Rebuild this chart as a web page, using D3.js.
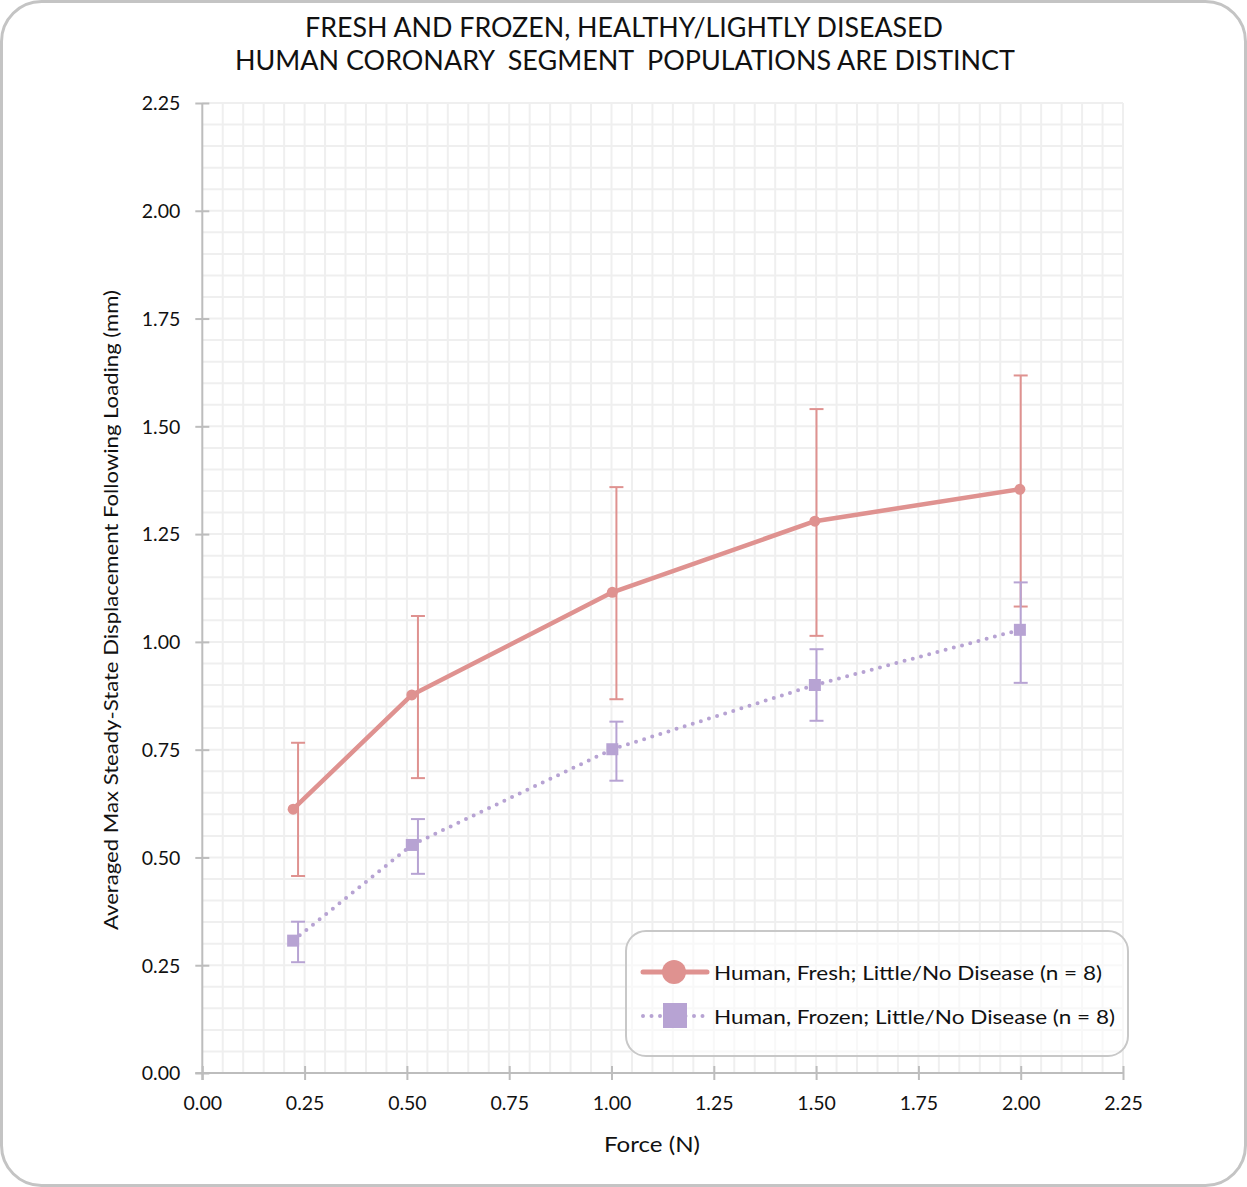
<!DOCTYPE html>
<html>
<head>
<meta charset="utf-8">
<script src="https://cdn.jsdelivr.net/npm/d3@7"></script>
<style>
  html, body { margin: 0; padding: 0; background: #fff; }
  svg { display: block; }
  text { font-family: Lato, "Open Sans", sans-serif; fill: #111; }
</style>
</head>
<body>
<svg id="chart" width="1247" height="1187"></svg>
<script>
// ---- data ----
const titleLines = ["FRESH AND FROZEN, HEALTHY/LIGHTLY DISEASED", "HUMAN CORONARY  SEGMENT  POPULATIONS ARE DISTINCT"];
const xTicks = [0, 0.25, 0.5, 0.75, 1.0, 1.25, 1.5, 1.75, 2.0, 2.25];
const yTicks = [0, 0.25, 0.5, 0.75, 1.0, 1.25, 1.5, 1.75, 2.0, 2.25];
const forceMarker = [0.222, 0.512, 1.002, 1.497, 1.998];
const forceErr = [0.234, 0.527, 1.012, 1.501, 2.0];
const freshMean = [0.612, 0.877, 1.115, 1.280, 1.354];
const freshHi = [0.766, 1.060, 1.359, 1.540, 1.618];
const freshLo = [0.457, 0.684, 0.867, 1.014, 1.082];
const frozenMean = [0.307, 0.529, 0.751, 0.900, 1.028];
const frozenHi = [0.351, 0.589, 0.815, 0.983, 1.138];
const frozenLo = [0.257, 0.462, 0.678, 0.817, 0.905];
const seriesNames = ["Human, Fresh; Little/No Disease (n = 8)", "Human, Frozen; Little/No Disease (n = 8)"];
const xTitle = "Force (N)";
const yTitle = "Averaged Max Steady-State Displacement Following Loading (mm)";

const freshColor = "#df9290";
const frozenColor = "#b7a3d3";

const svg = d3.select("#chart");
const W = 1247, H = 1187;

// outer rounded border
svg.append("rect").attr("x", 1.5).attr("y", 1.5).attr("width", W - 3).attr("height", H - 3)
  .attr("rx", 40).attr("ry", 40).attr("fill", "#fff").attr("stroke", "#c4c4c4").attr("stroke-width", 3);

const x = d3.scaleLinear().domain([0, 2.25]).range([202.3, 1123]);
const y = d3.scaleLinear().domain([0, 2.25]).range([1073, 103]);

// grid (every 0.05)
const gridVals = d3.range(0, 46).map(i => i * 0.05);
const grid = svg.append("g");
grid.selectAll("line.v").data(gridVals.slice(1)).join("line")
  .attr("x1", d => x(d)).attr("x2", d => x(d)).attr("y1", y(0)).attr("y2", y(2.25))
  .attr("stroke", "#efefef").attr("stroke-width", 2);
grid.selectAll("line.h").data(gridVals.slice(1)).join("line")
  .attr("y1", d => y(d)).attr("y2", d => y(d)).attr("x1", x(0)).attr("x2", x(2.25))
  .attr("stroke", "#efefef").attr("stroke-width", 2);

// axes
const axisColor = "#bdbdbd";
const xAxis = d3.axisBottom(x).tickValues(xTicks).tickFormat(d3.format(".2f")).tickSize(0).tickPadding(0);
const gx = svg.append("g").attr("transform", `translate(0,${y(0)})`).call(xAxis);
gx.select(".domain").remove();
gx.selectAll(".tick text").attr("font-size", 19.5).attr("dy", null).attr("y", 37).attr("fill", "#111")
  .attr("font-family", "Lato, sans-serif");
gx.selectAll(".tick").append("line").attr("y1", -7).attr("y2", 7).attr("stroke", axisColor).attr("stroke-width", 2);
svg.append("line").attr("x1", x(0) - 7).attr("x2", x(2.25) + 1).attr("y1", y(0)).attr("y2", y(0))
  .attr("stroke", axisColor).attr("stroke-width", 2);

const yAxis = d3.axisLeft(y).tickValues(yTicks).tickFormat(d3.format(".2f")).tickSize(0).tickPadding(0);
const gy = svg.append("g").attr("transform", `translate(${x(0)},0)`).call(yAxis);
gy.select(".domain").remove();
gy.selectAll(".tick text").attr("font-size", 19.5).attr("x", -22).attr("dy", "0.35em").attr("fill", "#111")
  .attr("font-family", "Lato, sans-serif");
gy.selectAll(".tick").append("line").attr("x1", -7).attr("x2", 7).attr("stroke", axisColor).attr("stroke-width", 2);
svg.append("line").attr("x1", x(0)).attr("x2", x(0)).attr("y1", y(0) + 7).attr("y2", y(2.25))
  .attr("stroke", axisColor).attr("stroke-width", 2);

// error bars
function errorBars(hi, lo, color) {
  const g = svg.append("g").attr("stroke", color).attr("stroke-width", 2).attr("fill", "none");
  const idx = d3.range(hi.length);
  g.selectAll("line.s").data(idx).join("line")
    .attr("x1", i => x(forceErr[i])).attr("x2", i => x(forceErr[i]))
    .attr("y1", i => y(hi[i])).attr("y2", i => y(lo[i]));
  g.selectAll("line.t").data(idx).join("line")
    .attr("x1", i => x(forceErr[i]) - 7).attr("x2", i => x(forceErr[i]) + 7)
    .attr("y1", i => y(hi[i])).attr("y2", i => y(hi[i]));
  g.selectAll("line.b").data(idx).join("line")
    .attr("x1", i => x(forceErr[i]) - 7).attr("x2", i => x(forceErr[i]) + 7)
    .attr("y1", i => y(lo[i])).attr("y2", i => y(lo[i]));
}
errorBars(freshHi, freshLo, freshColor);
errorBars(frozenHi, frozenLo, frozenColor);

// lines
const line = d3.line().x(d => x(d[0])).y(d => y(d[1]));
const freshPts = forceMarker.map((f, i) => [f, freshMean[i]]);
const frozenPts = forceMarker.map((f, i) => [f, frozenMean[i]]);
svg.append("path").attr("d", line(freshPts)).attr("fill", "none").attr("stroke", freshColor)
  .attr("stroke-width", 4.5).attr("stroke-linejoin", "round").attr("stroke-linecap", "round");
svg.append("path").attr("d", line(frozenPts)).attr("fill", "none").attr("stroke", frozenColor)
  .attr("stroke-width", 4).attr("stroke-dasharray", "0 8.5").attr("stroke-linecap", "round");

// markers
svg.append("g").selectAll("circle").data(freshPts).join("circle")
  .attr("cx", d => x(d[0])).attr("cy", d => y(d[1])).attr("r", 5.5).attr("fill", freshColor);
svg.append("g").selectAll("rect").data(frozenPts).join("rect")
  .attr("x", d => x(d[0]) - 6).attr("y", d => y(d[1]) - 6).attr("width", 12).attr("height", 12)
  .attr("fill", frozenColor);

// title
svg.append("text").attr("x", 624).attr("y", 37).attr("text-anchor", "middle").attr("font-size", 26)
  .attr("textLength", 638).attr("lengthAdjust", "spacingAndGlyphs").text(titleLines[0]);
svg.append("text").attr("x", 625).attr("y", 70).attr("text-anchor", "middle").attr("font-size", 26)
  .attr("textLength", 780).attr("lengthAdjust", "spacingAndGlyphs").attr("xml:space", "preserve")
  .style("white-space", "pre").text(titleLines[1]);

// axis titles
svg.append("text").attr("x", 652).attr("y", 1152).attr("text-anchor", "middle").attr("font-size", 21)
  .attr("textLength", 96).attr("lengthAdjust", "spacingAndGlyphs").text(xTitle);
svg.append("text").attr("transform", "translate(118,610) rotate(-90)").attr("text-anchor", "middle")
  .attr("font-size", 19.5).attr("textLength", 640).attr("lengthAdjust", "spacingAndGlyphs").text(yTitle);

// legend
const lg = svg.append("g");
lg.append("rect").attr("x", 626).attr("y", 931).attr("width", 502).attr("height", 125).attr("rx", 20)
  .attr("fill", "rgba(255,255,255,0.55)").attr("stroke", "#c8c8c8").attr("stroke-width", 2);
lg.append("line").attr("x1", 643).attr("x2", 707).attr("y1", 972).attr("y2", 972)
  .attr("stroke", freshColor).attr("stroke-width", 5).attr("stroke-linecap", "round");
lg.append("circle").attr("cx", 674).attr("cy", 972).attr("r", 12).attr("fill", freshColor);
lg.append("text").attr("x", 714).attr("y", 980).attr("font-size", 20).attr("textLength", 388)
  .attr("lengthAdjust", "spacingAndGlyphs").text(seriesNames[0]);
lg.append("line").attr("x1", 643).attr("x2", 705).attr("y1", 1016).attr("y2", 1016)
  .attr("stroke", frozenColor).attr("stroke-width", 4).attr("stroke-dasharray", "0 8.5").attr("stroke-linecap", "round");
lg.append("rect").attr("x", 663).attr("y", 1003).attr("width", 24).attr("height", 25).attr("fill", frozenColor);
lg.append("text").attr("x", 714).attr("y", 1024).attr("font-size", 20).attr("textLength", 401)
  .attr("lengthAdjust", "spacingAndGlyphs").text(seriesNames[1]);
</script>
</body>
</html>
